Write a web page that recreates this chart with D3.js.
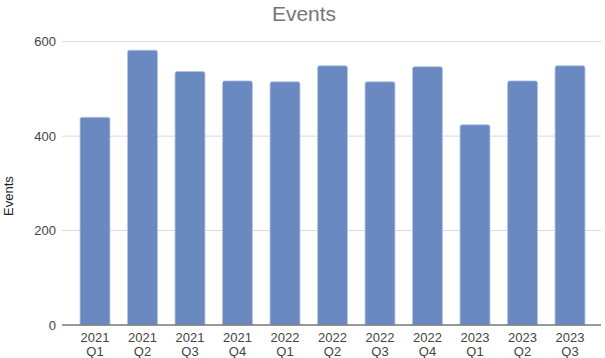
<!DOCTYPE html>
<html>
<head>
<meta charset="utf-8">
<script src="https://cdn.jsdelivr.net/npm/d3@7"></script>
<style>
  body { margin: 0; background: #fff; }
  text { font-family: Arial, "Liberation Sans", sans-serif; }
</style>
</head>
<body>
<div id="chart"></div>
<script>
// Data
const years = ["2021", "2021", "2021", "2021", "2022", "2022", "2022", "2022", "2023", "2023", "2023"];
const quarters = ["Q1", "Q2", "Q3", "Q4", "Q1", "Q2", "Q3", "Q4", "Q1", "Q2", "Q3"];
const events = [440, 582, 537, 517, 515, 549, 515, 547, 424, 517, 549];
const yTicks = [0, 200, 400, 600];

const width = 605, height = 358;
const plot = { left: 62, right: 601, top: 41.7, bottom: 325 };

const svg = d3.create("svg")
    .attr("width", width)
    .attr("height", height)
    .attr("viewBox", [0, 0, width, height]);

const keys = events.map((d, i) => i);

// Bars sit a bit inside the gridline span
const x = d3.scaleBand()
    .domain(keys)
    .range([71.25, 593.75])
    .paddingInner(0.37)
    .paddingOuter(0.185);

const y = d3.scaleLinear()
    .domain([0, 600])
    .range([plot.bottom, plot.top]);

// Gridlines
svg.append("g")
    .selectAll("line")
    .data(yTicks.filter(d => d > 0))
    .join("line")
    .attr("x1", plot.left)
    .attr("x2", plot.right)
    .attr("y1", d => y(d))
    .attr("y2", d => y(d))
    .attr("stroke", "#d9d9d9")
    .attr("stroke-width", 1);

// Y tick labels
svg.append("g")
    .selectAll("text")
    .data(yTicks)
    .join("text")
    .attr("x", 56)
    .attr("y", d => y(d))
    .attr("dy", "0.35em")
    .attr("text-anchor", "end")
    .attr("font-size", 13)
    .attr("fill", "#444")
    .text(d => d);

// Bars with rounded tops
const r = 2;
svg.append("g")
    .selectAll("path")
    .data(events)
    .join("path")
    .attr("d", (d, i) => {
        const x0 = x(i), w = x.bandwidth(), y0 = y(d), y1 = y(0);
        return `M${x0},${y1}V${y0 + r}Q${x0},${y0} ${x0 + r},${y0}H${x0 + w - r}Q${x0 + w},${y0} ${x0 + w},${y0 + r}V${y1}Z`;
    })
    .attr("fill", "#6a89c1")
    .attr("stroke", "#b3c4e3")
    .attr("stroke-width", 0.8);

// Baseline
svg.append("line")
    .attr("x1", plot.left)
    .attr("x2", plot.right)
    .attr("y1", y(0))
    .attr("y2", y(0))
    .attr("stroke", "#777")
    .attr("stroke-width", 1.5);

// X labels: year over quarter
const xl = svg.append("g")
    .selectAll("text")
    .data(keys)
    .join("text")
    .attr("text-anchor", "middle")
    .attr("font-size", 13)
    .attr("fill", "#444");
xl.append("tspan")
    .attr("x", i => x(i) + x.bandwidth() / 2)
    .attr("y", 341.5)
    .text(i => years[i]);
xl.append("tspan")
    .attr("x", i => x(i) + x.bandwidth() / 2)
    .attr("y", 355.5)
    .text(i => quarters[i]);

// Title
svg.append("text")
    .attr("x", 304)
    .attr("y", 21)
    .attr("text-anchor", "middle")
    .attr("font-size", 21)
    .attr("fill", "#757575")
    .text("Events");

// Y axis title
svg.append("text")
    .attr("transform", "translate(13,196) rotate(-90)")
    .attr("text-anchor", "middle")
    .attr("font-size", 13)
    .attr("fill", "#222")
    .text("Events");

document.getElementById("chart").appendChild(svg.node());
</script>
</body>
</html>
